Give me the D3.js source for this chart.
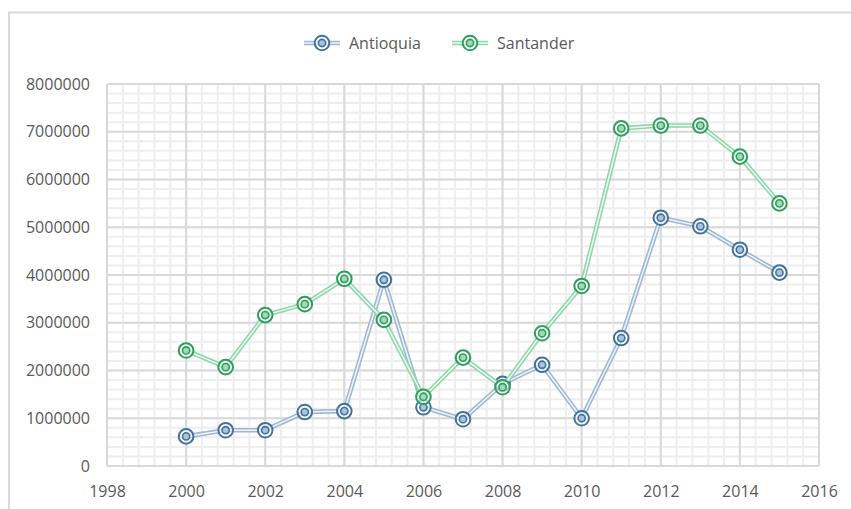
<!DOCTYPE html>
<html>
<head>
<meta charset="utf-8">
<script src="https://cdn.jsdelivr.net/npm/d3@7"></script>
<style>
body { margin: 0; background: #fff; }
svg { display: block; font-family: "Open Sans", sans-serif; }
</style>
</head>
<body>
<svg id="chart" width="851" height="509"></svg>
<script>
const years = [2000, 2001, 2002, 2003, 2004, 2005, 2006, 2007, 2008, 2009, 2010, 2011, 2012, 2013, 2014, 2015];
const antioquia = [620000, 750000, 750000, 1130000, 1150000, 3900000, 1230000, 980000, 1720000, 2120000, 1000000, 2680000, 5200000, 5020000, 4530000, 4050000];
const santander = [2420000, 2070000, 3160000, 3390000, 3920000, 3060000, 1450000, 2270000, 1650000, 2780000, 3770000, 7070000, 7130000, 7130000, 6480000, 5500000];
const seriesNames = ["Antioquia", "Santander"];
const xTicks = [1998, 2000, 2002, 2004, 2006, 2008, 2010, 2012, 2014, 2016];
const yTicks = [0, 1000000, 2000000, 3000000, 4000000, 5000000, 6000000, 7000000, 8000000];

const svg = d3.select("#chart"),
    m = {top: 84, right: 32, bottom: 43, left: 107},
    w = +svg.attr("width"), h = +svg.attr("height");

const x = d3.scaleLinear().domain([1998, 2016]).range([m.left, w - m.right]);
const y = d3.scaleLinear().domain([0, 8000000]).range([h - m.bottom, m.top]);

const colors = [
  {mark: "#41719c", line: "#9db8d3", fill: "#a9c4de"},
  {mark: "#2e9e5b", line: "#8fd6aa", fill: "#9fdcb5"}
];

// outer frame
svg.append("path").attr("d", `M9,${h}V12.5H${w}`).attr("fill", "none").attr("stroke", "#d9d9d9").attr("stroke-width", 2);

// minor grid
const g = svg.append("g");
g.selectAll(".vmin").data(d3.range(1998, 2016.01, 0.4)).enter().append("line")
  .attr("x1", d => x(d)).attr("x2", d => x(d)).attr("y1", y(0)).attr("y2", y(8000000))
  .attr("stroke", "#eeeeee").attr("stroke-width", 2);
g.selectAll(".hmin").data(d3.range(0, 8000001, 200000)).enter().append("line")
  .attr("y1", d => y(d)).attr("y2", d => y(d)).attr("x1", x(1998)).attr("x2", x(2016))
  .attr("stroke", "#eeeeee").attr("stroke-width", 2);
// major grid
g.selectAll(".vmaj").data(xTicks).enter().append("line")
  .attr("x1", d => x(d)).attr("x2", d => x(d)).attr("y1", y(0)).attr("y2", y(8000000))
  .attr("stroke", "#d9d9d9").attr("stroke-width", 2);
g.selectAll(".hmaj").data(yTicks).enter().append("line")
  .attr("y1", d => y(d)).attr("y2", d => y(d)).attr("x1", x(1998)).attr("x2", x(2016))
  .attr("stroke", "#d9d9d9").attr("stroke-width", 2);

// axes labels
const xa = svg.append("g").attr("transform", "translate(0," + y(0) + ")")
  .call(d3.axisBottom(x).tickValues(xTicks).tickFormat(d3.format("d")).tickSize(0).tickPadding(20));
const ya = svg.append("g").attr("transform", "translate(" + (m.left - 17) + ",0)")
  .call(d3.axisLeft(y).tickValues(yTicks).tickFormat(d3.format("d")).tickSize(0).tickPadding(0));
[xa, ya].forEach(a => {
  a.select(".domain").remove();
  a.selectAll("text").attr("fill", "#595959").attr("font-size", 16).attr("font-family", "Open Sans, sans-serif");
});

const line = d3.line().x((d, i) => x(years[i])).y(d => y(d));

function marker(sel, c) {
  sel.append("circle").attr("r", 7.3).attr("fill", "#fff").attr("fill-opacity", 0.6)
    .attr("stroke", c.mark).attr("stroke-width", 2);
  sel.append("circle").attr("r", 3.6).attr("fill", c.fill)
    .attr("stroke", c.mark).attr("stroke-width", 1.6);
}

[antioquia, santander].forEach((vals, k) => {
  const c = colors[k];
  const s = svg.append("g");
  s.append("path").datum(vals).attr("d", line).attr("fill", "none")
    .attr("stroke", c.line).attr("stroke-width", 4.6).attr("stroke-linejoin", "round");
  s.append("path").datum(vals).attr("d", line).attr("fill", "none")
    .attr("stroke", "#fff").attr("stroke-opacity", 0.85).attr("stroke-width", 1.5).attr("stroke-linejoin", "round");
  s.selectAll("g").data(vals).enter().append("g")
    .attr("transform", (d, i) => "translate(" + x(years[i]) + "," + y(d) + ")")
    .each(function() { marker(d3.select(this), c); });
});

// legend
const legX = [322, 470];
seriesNames.forEach((n, k) => {
  const c = colors[k];
  const lg = svg.append("g").attr("transform", "translate(" + legX[k] + ",43)");
  lg.append("line").attr("x1", -18).attr("x2", 18).attr("stroke", c.line).attr("stroke-width", 4.6);
  lg.append("line").attr("x1", -18).attr("x2", 18).attr("stroke", "#fff").attr("stroke-opacity", 0.85).attr("stroke-width", 1.5);
  marker(lg, c);
  lg.append("text").attr("x", 27).attr("y", 0).attr("dy", "0.35em").attr("fill", "#595959")
    .attr("font-size", 16).text(n);
});
</script>
</body>
</html>
